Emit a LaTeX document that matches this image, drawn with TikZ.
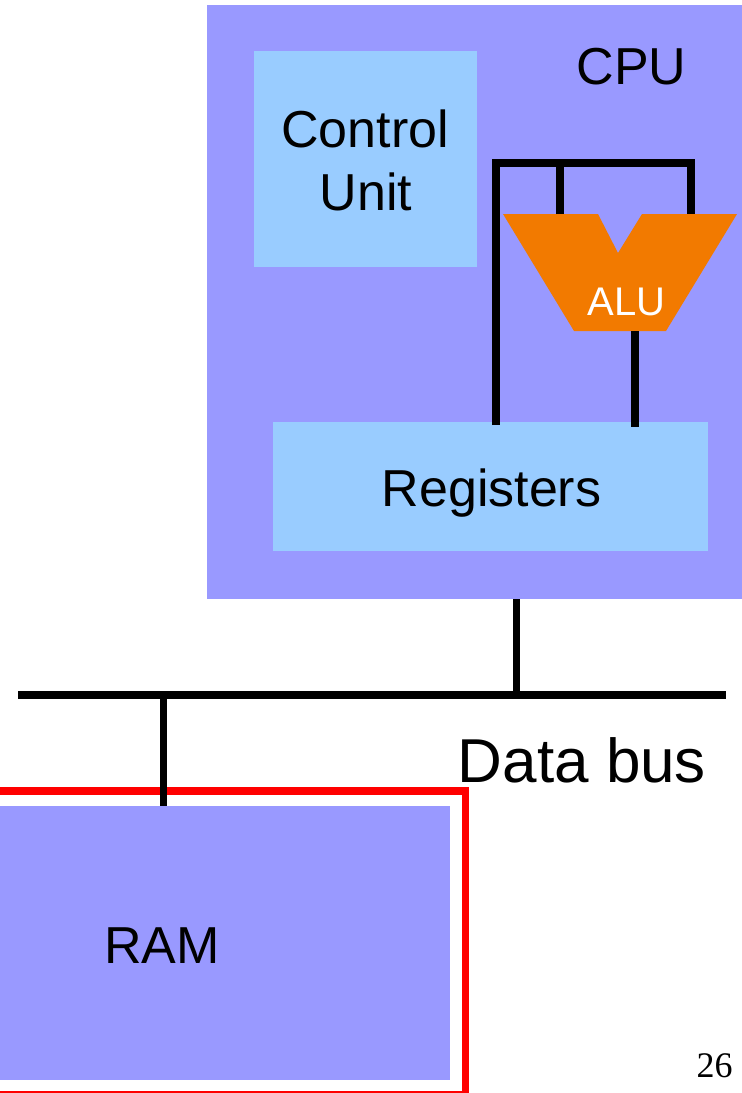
\documentclass[tikz,border=0pt]{standalone}
\usepackage{fontspec}
\setmainfont{Liberation Sans}
\newfontfamily\numfont{Liberation Serif}
\definecolor{cpublue}{HTML}{9999FF}
\definecolor{lightblue}{HTML}{99CCFF}
\definecolor{aluorange}{HTML}{F27A00}
\definecolor{selred}{HTML}{FF0000}
\begin{document}
\begin{tikzpicture}[x=1pt,y=-1pt,
  blockbox/.style={inner sep=0pt, outer sep=0pt, anchor=north west},
  lbl/.style={anchor=base, inner sep=0pt, font=\fontsize{52}{62}\selectfont},
  wire/.style={line width=7.5pt, black, line join=miter},
  buswire/.style={line width=8pt, black}]
\useasboundingbox (0,0) rectangle (742,1093);
\clip (0,0) rectangle (742,1093);
% CPU
\node[blockbox, fill=cpublue, minimum width=545pt, minimum height=594pt] (cpu) at (207,5) {};
\node[blockbox, fill=lightblue, minimum width=223pt, minimum height=216pt] (cu) at (254,51) {};
\node[blockbox, fill=lightblue, minimum width=435pt, minimum height=129pt] (reg) at (273,422) {};
\node[lbl] (cputxt) at (631.5,84) {CPU};
\node[lbl] (cutxt1) at (365,147) {Control};
\node[lbl] (cutxt2) at (366,210) {Unit};
\node[lbl] (regtxt) at (491.5,506) {Registers};
% ALU
\coordinate (aluA) at (503,214);
\coordinate (aluB) at (598,214);
\coordinate (aluC) at (618,253);
\coordinate (aluD) at (642,214);
\coordinate (aluE) at (737,214);
\coordinate (aluF) at (666,331);
\coordinate (aluG) at (574,331);
\fill[aluorange] (aluA) -- (aluB) -- (aluC) -- (aluD) -- (aluE) -- (aluF) -- (aluG) -- cycle;
\node[lbl, text=white, font=\fontsize{40}{48}\selectfont] (alutxt) at (626.5,315) {ALU};
% ALU wiring
\coordinate (regin) at (496,425);
\coordinate (topL) at (496,163);
\coordinate (in1) at (560,214);
\coordinate (in2) at (691,214);
\coordinate (aluout) at (635,331);
\coordinate (regout) at (635,427);
\draw[wire] (regin) -- (topL) -| (in2);
\draw[wire] (in1) -- (in1 |- topL);
\draw[wire] (aluout) -- (regout);
% Bus
\coordinate (busL) at (18,695);
\coordinate (busR) at (726,695);
\coordinate (cpubus) at (516,599);
\coordinate (rambus) at (163,695);
\draw[buswire] (busL) -- (busR);
\draw[wire, line width=7pt] (cpubus) -- (cpubus |- busL);
\node[lbl, font=\fontsize{62}{72}\selectfont] (bustxt) at (582,782) {Data bus};
% RAM
\node[blockbox, draw=selred, line width=7.5pt, minimum width=485.5pt, minimum height=303.5pt] (ramsel) at (-20,791) {};
\node[blockbox, fill=cpublue, minimum width=460pt, minimum height=274pt] (ram) at (-10,806) {};
\draw[wire, line width=7pt] (rambus) -- (rambus |- ram.north);
\node[lbl] (ramtxt) at (162,963) {RAM};
% page number
\node[anchor=base, inner sep=0pt, font=\numfont\fontsize{36}{42}\selectfont] (pnum) at (714.5,1077) {26};
\end{tikzpicture}
\end{document}
